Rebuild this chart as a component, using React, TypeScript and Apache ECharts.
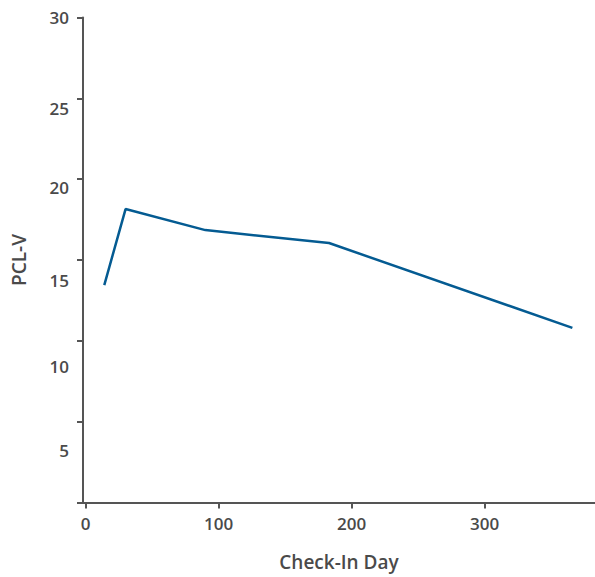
import React, { useEffect, useRef } from "react";
import * as echarts from "echarts";

const days = [14, 30, 90, 183, 366];
const pclv = [13.45, 18.15, 16.85, 16.05, 10.8];
const xTicks = [0, 100, 200, 300];
const yTicks = [0, 5, 10, 15, 20, 25, 30];
// vertical drift of each y tick label in the reference (px)
const yLabelShift: Record<number, number> = { 5: 29, 10: 26, 15: 20, 20: 8, 25: 10, 30: 0 };

export default function App() {
  const ref = useRef<HTMLDivElement>(null);
  useEffect(() => {
    if (!ref.current) return;
    const chart = echarts.init(ref.current, null, { renderer: "svg" });
    const font = "'Open Sans', 'Noto Sans', sans-serif";
    const axisColor = "#555555";
    const textColor = "#4a4a4a";
    const rich: Record<string, any> = {};
    yTicks.forEach((v) => {
      const d = yLabelShift[v] || 0;
      rich["o" + v] = {
        fontFamily: font,
        fontSize: 17,
        fontWeight: 600,
        color: textColor,
        padding: [2 * d, 0, 0, 0],
      };
    });
    chart.setOption({
      animation: false,
      grid: { left: 83, right: 0, top: 17.5, bottom: 74.5, containLabel: false },
      xAxis: {
        type: "value",
        min: -2,
        max: 383,
        name: "Check-In Day",
        nameLocation: "middle",
        nameGap: 50,
        nameTextStyle: { fontFamily: font, fontSize: 19, fontWeight: 600, color: textColor },
        axisLine: { onZero: false, lineStyle: { color: axisColor, width: 2 } },
        axisTick: { show: true, customValues: xTicks, length: 6, lineStyle: { color: axisColor, width: 2 } },
        axisLabel: {
          customValues: xTicks,
          margin: 12,
          fontFamily: font,
          fontSize: 17,
          fontWeight: 600,
          color: textColor,
        },
        splitLine: { show: false },
      },
      yAxis: {
        type: "value",
        min: 0,
        max: 30,
        interval: 5,
        name: "PCL-V",
        nameLocation: "middle",
        nameGap: 55,
        nameTextStyle: { fontFamily: font, fontSize: 19, fontWeight: 600, color: textColor },
        axisLine: { show: true, onZero: false, lineStyle: { color: axisColor, width: 2 } },
        axisTick: { show: true, length: 6, lineStyle: { color: axisColor, width: 2 } },
        axisLabel: {
          margin: 14,
          fontFamily: font,
          fontSize: 17,
          fontWeight: 600,
          color: textColor,
          formatter: (v: number) => (v === 0 ? "" : `{o${v}|${v}}`),
          rich,
        },
        splitLine: { show: false },
      },
      series: [
        {
          type: "line",
          data: days.map((d, i) => [d, pclv[i]]),
          symbol: "none",
          lineStyle: { color: "#045b92", width: 2.5 },
        },
      ],
    });
    return () => chart.dispose();
  }, []);
  return <div ref={ref} style={{ width: 595, height: 577, position: "absolute", left: 0, top: 0 }} />;
}
